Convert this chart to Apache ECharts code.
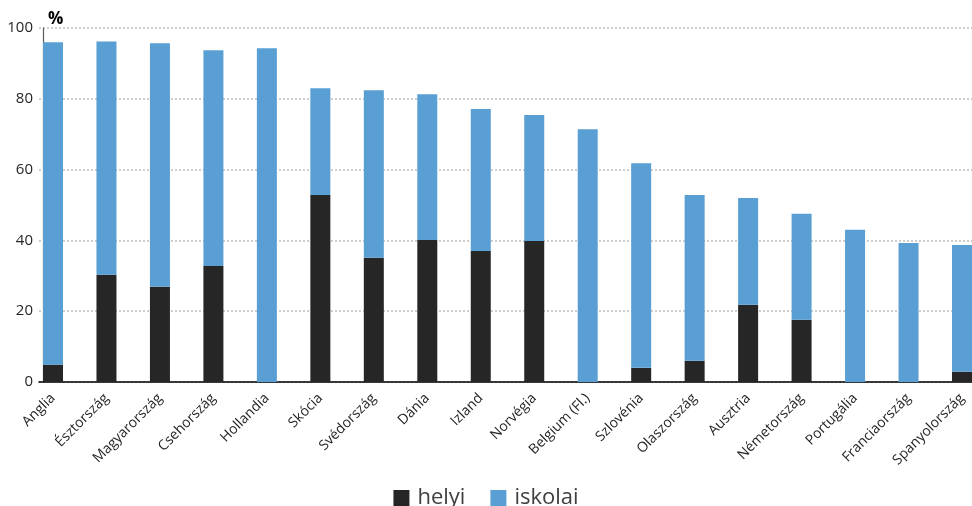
<!DOCTYPE html>
<html>
<head>
<meta charset="utf-8">
<script src="https://cdn.jsdelivr.net/npm/echarts@6/dist/echarts.min.js"></script>
<style>html,body{margin:0;padding:0;background:#fff;}#c{width:972px;height:506px;}</style>
</head>
<body>
<div id="c"></div>
<script>
const categories = ['Anglia','Észtország','Magyarország','Csehország','Hollandia','Skócia','Svédország','Dánia','Izland','Norvégia','Belgium (Fl.)','Szlovénia','Olaszország','Ausztria','Németország','Portugália','Franciaország','Spanyolország'];
const helyi = [4.9, 30.3, 26.9, 32.8, 0, 52.8, 35.1, 40.1, 37.0, 39.8, 0, 4.0, 6.0, 21.8, 17.6, 0, 0, 2.9];
const iskolai = [91.1, 65.9, 68.8, 60.9, 94.3, 30.2, 47.3, 41.2, 40.1, 35.6, 71.4, 57.8, 46.8, 30.2, 29.9, 43.0, 39.3, 35.8];
const yTicks = {min: 0, max: 100, interval: 20};

const font = '"Open Sans", "Noto Sans", sans-serif';
const chart = echarts.init(document.getElementById('c'), null, {renderer: 'canvas'});
chart.setOption({
  animation: false,
  textStyle: {fontFamily: font},
  grid: [
    {left: 53, right: 10, top: 28, bottom: 124},
    {left: 39, right: 0, top: 28, bottom: 124}
  ],
  legend: {
    data: ['helyi', 'iskolai'],
    left: 'center', top: 482,
    itemWidth: 16, itemHeight: 16, itemGap: 25,
    icon: 'rect',
    textStyle: {fontSize: 22, color: '#404040', fontFamily: font, padding: [0, 0, 0, 3]}
  },
  xAxis: [
    {
      type: 'category', gridIndex: 0, data: categories, boundaryGap: false,
      axisLine: {show: false}, axisTick: {show: false},
      axisLabel: {rotate: 45, margin: 14, fontSize: 14, color: '#262626', interval: 0, fontFamily: font}
    },
    {
      type: 'value', gridIndex: 1, min: 0, max: 1,
      axisLine: {show: true, lineStyle: {color: '#000', width: 1.5}},
      axisTick: {show: false}, axisLabel: {show: false}, splitLine: {show: false}
    }
  ],
  yAxis: [
    {
      type: 'value', gridIndex: 0, min: yTicks.min, max: yTicks.max, interval: yTicks.interval,
      offset: 10,
      name: '%', nameLocation: 'end', nameGap: 0,
      nameTextStyle: {fontWeight: 'bold', fontSize: 17, color: '#000', align: 'left', padding: [0, 0, 0, 5], fontFamily: font},
      axisLine: {show: true, lineStyle: {color: '#595959', width: 1.2}},
      axisTick: {show: false},
      axisLabel: {margin: 10, fontSize: 15, color: '#262626', fontFamily: font},
      splitLine: {show: false}
    },
    {
      type: 'value', gridIndex: 1, min: yTicks.min, max: yTicks.max, interval: yTicks.interval,
      axisLine: {show: false}, axisTick: {show: false}, axisLabel: {show: false},
      splitLine: {show: true, lineStyle: {color: '#bdbdbd', width: 1.5, type: [2, 2]}}
    }
  ],
  series: [
    {
      name: 'helyi', type: 'bar', stack: 'a', xAxisIndex: 0, yAxisIndex: 0,
      barWidth: 20, data: helyi, itemStyle: {color: '#262626'}
    },
    {
      name: 'iskolai', type: 'bar', stack: 'a', xAxisIndex: 0, yAxisIndex: 0,
      barWidth: 20, data: iskolai, itemStyle: {color: '#599fd4'}
    }
  ]
});
</script>
</body>
</html>
